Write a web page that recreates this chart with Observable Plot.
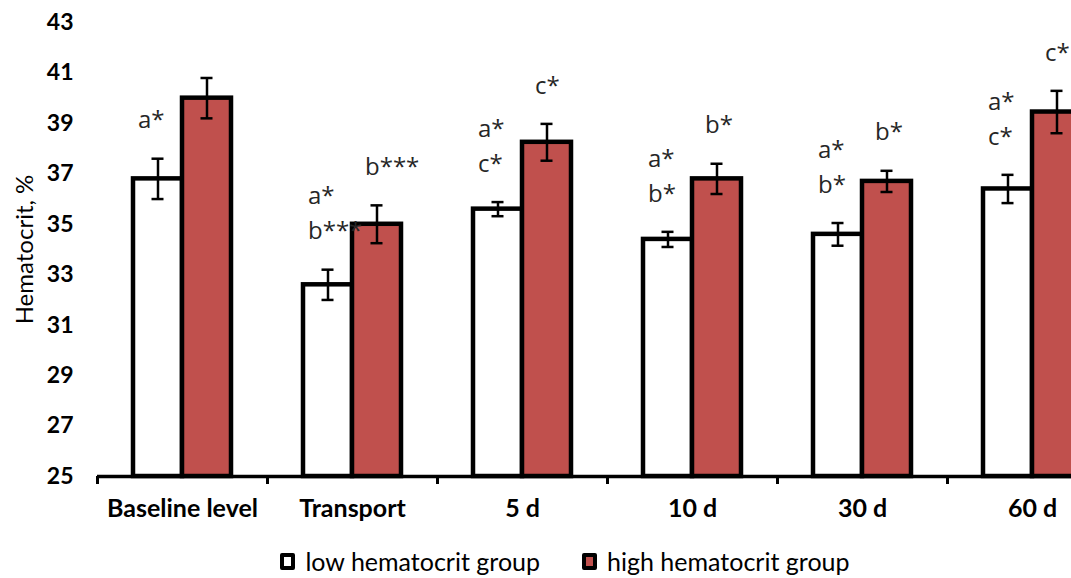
<!DOCTYPE html>
<html>
<head>
<meta charset="utf-8">
<script src="https://cdn.jsdelivr.net/npm/d3@7"></script>
<script src="https://cdn.jsdelivr.net/npm/@observablehq/plot@0.6"></script>
<style>
  html, body { margin: 0; padding: 0; background: #fff; overflow: hidden; width: 1071px; height: 578px; }
  #chart { width: 1130px; }
  #chart svg { max-width: none !important; display: block; }
  .legend { width: 1130px; display: flex; justify-content: center; gap: 42px; font-family: Lato, sans-serif; font-size: 25px; line-height: 25px; color: #000; margin-top: 4px; }
  .legend .item { display: flex; align-items: center; }
  .legend .sw { width: 7px; height: 9px; border: 4px solid #000; border-radius: 2px; margin-right: 10px; }
</style>
</head>
<body>
<div id="chart"></div>
<div class="legend" id="legend"></div>
<script>
// Sampling days and the two hematocrit groups
const categories = ["Baseline level", "Transport", "5 d", "10 d", "30 d", "60 d"];
const groups = ["low hematocrit group", "high hematocrit group"];
const groupColors = ["#ffffff", "#C0504D"];

// Mean hematocrit (%) and error per group
const lowMean = [36.8, 32.6, 35.6, 34.4, 34.6, 36.4];
const lowErr = [0.8, 0.6, 0.28, 0.3, 0.45, 0.56];
const highMean = [40.0, 35.0, 38.25, 36.8, 36.7, 39.45];
const highErr = [0.8, 0.75, 0.73, 0.6, 0.42, 0.84];

// Significance letters above each bar (top line first)
const lowLetters = [["a*"], ["a*", "b***"], ["a*", "c*"], ["a*", "b*"], ["a*", "b*"], ["a*", "c*"]];
const highLetters = [[], ["b***"], ["c*"], ["b*"], ["b*"], ["c*"]];

const yTicks = [25, 27, 29, 31, 33, 35, 37, 39, 41, 43];
const yLabel = "Hematocrit, %";

const rows = [];
categories.forEach((c, i) => {
  rows.push({category: c, group: groups[0], mean: lowMean[i], err: lowErr[i]});
  rows.push({category: c, group: groups[1], mean: highMean[i], err: highErr[i]});
});
const low = rows.filter(d => d.group === groups[0]);
const high = rows.filter(d => d.group === groups[1]);

function letterRows(letters, means, errs) {
  const out = [];
  letters.forEach((list, i) => {
    list.forEach((t, j) => {
      out.push({category: categories[i], top: means[i] + errs[i], text: t, line: list.length - 1 - j});
    });
  });
  return out;
}
const lowText = letterRows(lowLetters, lowMean, lowErr);
const highText = letterRows(highLetters, highMean, highErr);

// Bars sit side by side at the centre of each 170px category band
const bw = 48;
const lowInset = {insetLeft: 85 - bw - 1, insetRight: 85};
const highInset = {insetLeft: 85, insetRight: 85 - bw - 1};
const lowDx = -(bw / 2) - 0.5;
const highDx = bw / 2 + 0.5;
const cap = 6;

function errorMarks(data, dx) {
  const capInsets = {insetLeft: 85 + dx - cap, insetRight: 85 - dx - cap};
  return [
    Plot.ruleX(data, {x: "category", y1: d => d.mean - d.err, y2: d => d.mean + d.err, dx, stroke: "#000", strokeWidth: 2.5}),
    Plot.tickY(data, {x: "category", y: d => d.mean + d.err, ...capInsets, stroke: "#000", strokeWidth: 2.5}),
    Plot.tickY(data, {x: "category", y: d => d.mean - d.err, ...capInsets, stroke: "#000", strokeWidth: 2.5})
  ];
}

function letterMarks(data, dx) {
  return data.map(d => Plot.text([d], {
    x: "category", y: "top", text: "text", dx, dy: -38 - d.line * 35,
    textAnchor: "start", fontSize: 24, fontFamily: "'Open Sans', sans-serif", fill: "#262626"
  }));
}

const chart = Plot.plot({
  width: 1130,
  height: 545,
  marginLeft: 97,
  marginRight: 13,
  marginTop: 22,
  marginBottom: 69,
  style: {fontFamily: "Lato, sans-serif", color: "#000", background: "#fff", overflow: "visible"},
  x: {domain: categories, padding: 0, axis: null},
  y: {domain: [25, 43], axis: null},
  color: {domain: groups, range: groupColors},
  marks: [
    Plot.axisY(yTicks, {tickSize: 0, tickPadding: 24, fontWeight: "bold", fontSize: 23, label: null}),
    Plot.axisY({ticks: [], tickSize: 0, label: yLabel, labelAnchor: "center", labelArrow: "none", labelOffset: 82, fontSize: 24}),
    Plot.axisX({tickSize: 0, tickPadding: 23, fontWeight: "bold", fontSize: 25, label: null}),
    Plot.barY(low, {x: "category", y1: () => 25, y2: "mean", fill: "group", stroke: "#000", strokeWidth: 4.5, ...lowInset}),
    Plot.barY(high, {x: "category", y1: () => 25, y2: "mean", fill: "group", stroke: "#000", strokeWidth: 4.5, ...highInset}),
    Plot.ruleY([25], {stroke: "#000", strokeWidth: 3.5}),
    Plot.ruleX(categories, {x: d => d, y1: () => 25, y2: () => 25, insetBottom: -8, dx: -85, stroke: "#000", strokeWidth: 3}),
    ...errorMarks(low, lowDx),
    ...errorMarks(high, highDx),
    ...letterMarks(lowText, lowDx - 20),
    ...letterMarks(highText, highDx - 12)
  ]
});
document.getElementById("chart").appendChild(chart);

const legend = document.getElementById("legend");
groups.forEach((g, i) => {
  const item = document.createElement("div");
  item.className = "item";
  const sw = document.createElement("span");
  sw.className = "sw";
  sw.style.background = groupColors[i];
  const label = document.createElement("span");
  label.textContent = g;
  item.appendChild(sw);
  item.appendChild(label);
  legend.appendChild(item);
});
</script>
</body>
</html>
